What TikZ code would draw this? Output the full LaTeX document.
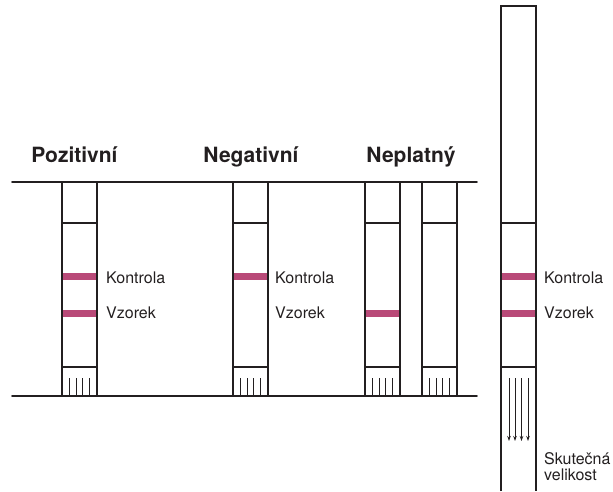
\documentclass[tikz,border=0pt]{standalone}
\usepackage{fontspec}
\setmainfont{TeX Gyre Heros}
\usepackage{tkz-euclide}
\usetikzlibrary{arrows.meta}
\definecolor{ink}{HTML}{231F20}
\definecolor{band}{HTML}{B94A78}
\tikzset{
  frame/.style={line width=1.7pt,color=ink},
  stripline/.style={line width=1.3pt,color=ink},
  tick/.style={line width=1pt,color=ink},
  title/.style={font=\fontsize{21}{25}\selectfont\bfseries,text=ink,anchor=base},
  lbl/.style={font=\fontsize{16}{19}\selectfont,text=ink,anchor=base west,inner sep=0pt},
  bandfill/.style={fill=band}
}
\begin{document}
\begin{tikzpicture}[x=1pt,y=-1pt]
    \useasboundingbox (0,0) rectangle (613,491);
    \tkzDefPoints{12/182/A,477/182/B,12/396/C,477/396/D}
    \tkzDefPoints{501/491/E,501/6/F,536/6/G,536/491/H}
    % coloured lines first
    \foreach \x/\y in {62/273,62/309.5,233/273,365/309.5,501/273,501/309.5}
        \fill[bandfill] (\x,\y) rectangle ++(35,7);
    % the four strips in the box
    \foreach \x in {62,233,365,422}{
        \draw[stripline] (\x,182) -- (\x,396) (\x+35,182) -- (\x+35,396)
                         (\x,223) -- (\x+35,223) (\x,367) -- (\x+35,367);
        \foreach \d in {7.5,14,20.5,27}
            \draw[tick] (\x+\d,378) -- (\x+\d,396);
    }
    \tkzDrawSegments[frame](A,B C,D)
    % strip at real size
    \draw[stripline] (E) -- (F) -- (G) -- (H);
    \draw[stripline] (501,223) -- (536,223) (501,367) -- (536,367);
    \foreach \x in {509,515,521.5,528}
        \draw[tick,-{Stealth[length=5pt,width=3.5pt]}] (\x,378) -- (\x,441);
    % titles
    \node[title] (pos) at (74.5,162) {Pozitivní};
    \node[title] (neg) at (251,162) {Negativní};
    \node[title] (npl) at (411,162) {Neplatný};
    % labels
    \node[lbl] (kP) at (106,283) {Kontrola};
    \node[lbl] (vP) at (106,318.5) {Vzorek};
    \node[lbl] (kN) at (275,283) {Kontrola};
    \node[lbl] (vN) at (275,318.5) {Vzorek};
    \node[lbl] (kR) at (544,283) {Kontrola};
    \node[lbl] (vR) at (544,318.5) {Vzorek};
    \node[lbl] (sk) at (544,464) {Skutečná};
    \node[lbl] (ve) at (544,480) {velikost};
\end{tikzpicture}
\end{document}
